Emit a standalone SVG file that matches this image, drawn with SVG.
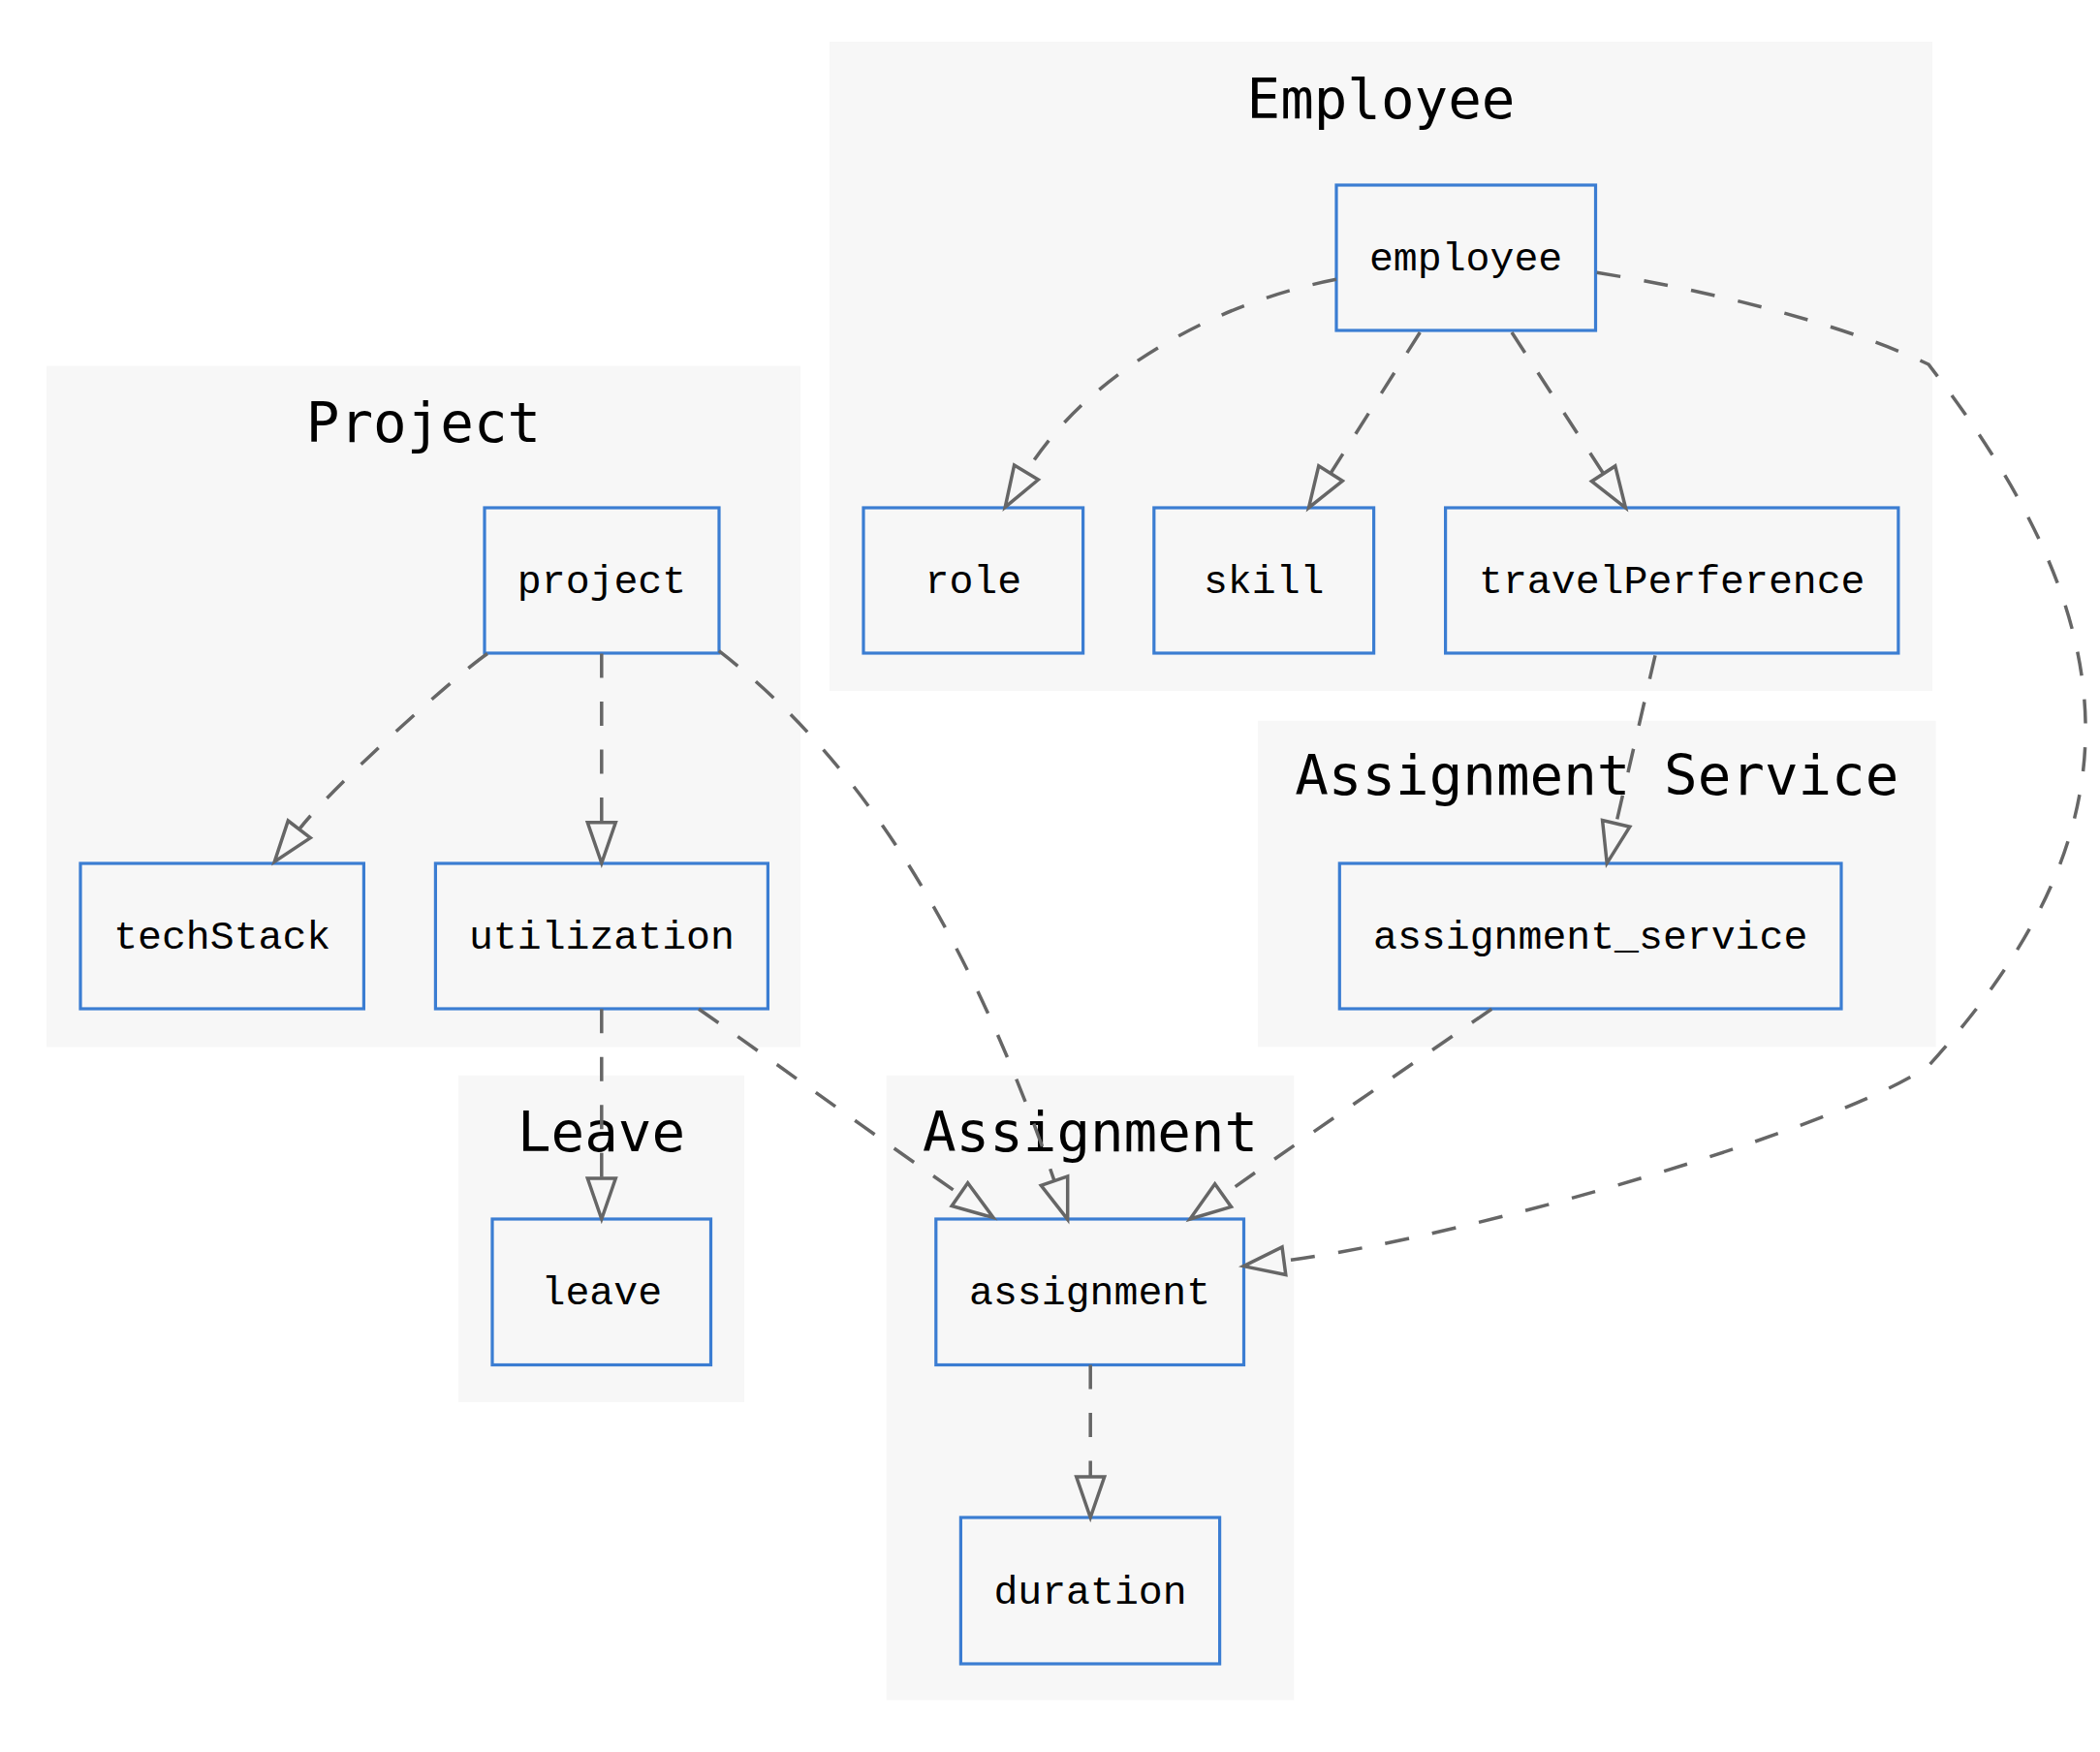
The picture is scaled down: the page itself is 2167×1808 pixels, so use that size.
<svg xmlns="http://www.w3.org/2000/svg" width="2167" height="1808" viewBox="0 0 2167 1808">
<style>
.cl{fill:#f7f7f7;stroke:none}
.clt{font-family:"DejaVu Sans Mono",monospace;font-size:57.5px;fill:#000;text-anchor:middle}
.nd{fill:#f7f7f7;stroke:#3b7dd2;stroke-width:3.2}
.ndt{font-family:"Liberation Mono",monospace;font-size:41.5px;fill:#000;text-anchor:middle}
.e{fill:none;stroke:#666;stroke-width:3.5;stroke-dasharray:25 24.5;marker-end:url(#ah)}
</style>
<defs>
<marker id="ah" markerUnits="userSpaceOnUse" markerWidth="50" markerHeight="34" viewBox="-2 -2 50 34" refX="0" refY="15" orient="auto" overflow="visible">
<path d="M0,0.5 L42,15 L0,29.5 Z" fill="none" stroke="#666" stroke-width="3.5" stroke-dasharray="none"/>
</marker>
</defs>
<rect width="2167" height="1808" fill="#fff"/>
<g id="clusters">
<g id="cluster_employee"><rect class="cl" x="856" y="43" width="1138" height="670"/><text class="clt" x="1425" y="121.5">Employee</text></g>
<g id="cluster_project"><rect class="cl" x="48" y="377.6" width="778" height="703"/><text class="clt" x="437" y="455.5">Project</text></g>
<g id="cluster_assignment_service"><rect class="cl" x="1298" y="743.7" width="699.6" height="336.7"/><text class="clt" x="1647.8" y="820">Assignment Service</text></g>
<g id="cluster_leave"><rect class="cl" x="473" y="1109.8" width="295" height="337.2"/><text class="clt" x="620.5" y="1188">Leave</text></g>
<g id="cluster_assignment"><rect class="cl" x="914.6" y="1109.8" width="420.7" height="644.6"/><text class="clt" x="1125" y="1188">Assignment</text></g>
</g>
<g id="nodes">
<g id="employee"><rect class="nd" x="1379" y="191" width="267.5" height="150"/><text class="ndt" x="1512.6" y="279">employee</text></g>
<g id="role"><rect class="nd" x="891" y="524" width="226.6" height="150"/><text class="ndt" x="1004.3" y="612">role</text></g>
<g id="skill"><rect class="nd" x="1190.8" y="524" width="226.8" height="150"/><text class="ndt" x="1304.2" y="612">skill</text></g>
<g id="travelPerference"><rect class="nd" x="1491.6" y="524" width="467.3" height="150"/><text class="ndt" x="1725.3" y="612">travelPerference</text></g>
<g id="project"><rect class="nd" x="500" y="524" width="242" height="150"/><text class="ndt" x="621" y="612">project</text></g>
<g id="techStack"><rect class="nd" x="83" y="891" width="292.4" height="150"/><text class="ndt" x="229.2" y="979">techStack</text></g>
<g id="utilization"><rect class="nd" x="449.4" y="891" width="343" height="150"/><text class="ndt" x="620.9" y="979">utilization</text></g>
<g id="assignment_service"><rect class="nd" x="1382.3" y="891" width="517.7" height="150"/><text class="ndt" x="1641.2" y="979">assignment_service</text></g>
<g id="leave"><rect class="nd" x="508" y="1258" width="225.5" height="150.5"/><text class="ndt" x="620.8" y="1346">leave</text></g>
<g id="assignment"><rect class="nd" x="965.8" y="1258" width="317.7" height="150.5"/><text class="ndt" x="1124.6" y="1346">assignment</text></g>
<g id="duration"><rect class="nd" x="991.4" y="1566" width="267.2" height="151"/><text class="ndt" x="1125" y="1654.5">duration</text></g>
</g>
<g id="connectors">
<path class="e" d="M503,674.5 C465,701 340,815 308.8,855.8"/>
<path class="e" d="M620.8,674.5 V848.7"/>
<path class="e" d="M741.8,671.7 C899.8,793.7 1006.5,982.1 1088,1218.6"/>
<path class="e" d="M620.8,1041.2 V1216"/>
<path class="e" d="M721,1041.2 C760,1068 900,1170 990.4,1232.6"/>
<path class="e" d="M1125.2,1408.5 V1524"/>
<path class="e" d="M1378.9,288.3 C1241.7,314.9 1116,393.5 1059,487.5"/>
<path class="e" d="M1465.3,343 L1373,488.5"/>
<path class="e" d="M1560,343 L1654.6,488.8"/>
<path class="e" d="M1708,676.3 L1667.7,849.9"/>
<path class="e" d="M1539.3,1041.2 C1440,1110 1330,1185 1262.1,1233.6"/>
<path class="e" d="M1647.8,281.3 C1757.8,298.8 1900,333 1990,376 C2195.9,642.6 2216.1,850.3 1990,1100 C1900,1163 1523.1,1275.2 1324.9,1301.2"/>
</g>
</svg>
